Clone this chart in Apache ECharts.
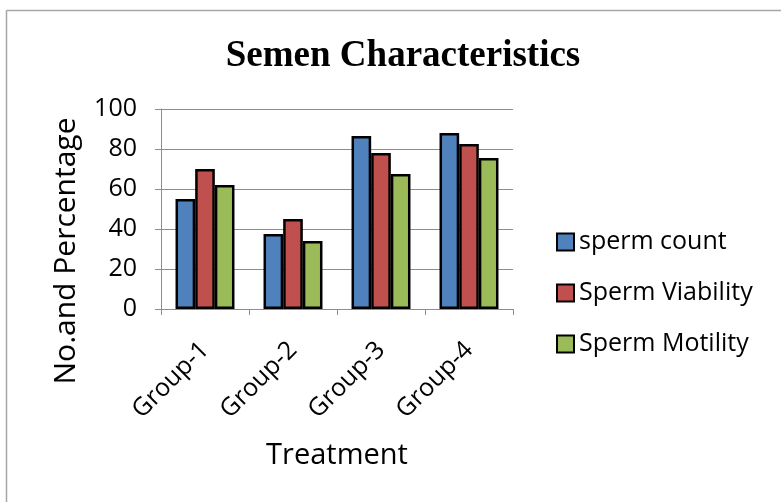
<!DOCTYPE html>
<html>
<head>
<meta charset="utf-8">
<script src="https://cdn.jsdelivr.net/npm/echarts@6/dist/echarts.min.js"></script>
<style>
  html, body { margin: 0; padding: 0; background: #fff; }
  #chart { width: 781px; height: 502px; }
</style>
</head>
<body>
<div id="chart"></div>
<script>
// Semen characteristics per treatment group
const categories = ['Group-1', 'Group-2', 'Group-3', 'Group-4'];
const spermCount = [55, 37.5, 86.5, 88];
const spermViability = [70, 45, 78, 82.5];
const spermMotility = [62, 34, 67.5, 75.5];
const yTicks = [0, 20, 40, 60, 80, 100];

const labelFont = '"Open Sans", "Noto Sans", sans-serif';
const gridColor = '#8c8c8c';

const chart = echarts.init(document.getElementById('chart'), null, { renderer: 'canvas' });

function barSeries(name, data, color) {
  return {
    name: name,
    type: 'bar',
    data: data,
    barGap: '0%',
    barCategoryGap: '33%',
    itemStyle: { color: color, borderColor: '#000', borderWidth: 2.5 },
    emphasis: { disabled: true }
  };
}

chart.setOption({
  animation: false,
  backgroundColor: '#fff',
  title: {
    text: 'Semen Characteristics',
    left: 398,
    top: 33,
    textAlign: 'center',
    textStyle: {
      fontFamily: '"Liberation Serif", "Times New Roman", serif',
      fontWeight: 'bold',
      fontSize: 37,
      color: '#000'
    }
  },
  legend: {
    orient: 'vertical',
    left: 551,
    top: 224,
    itemWidth: 17,
    itemHeight: 17,
    itemGap: 25,
    itemTextGap: 7,
    icon: 'rect',
    textStyle: { fontFamily: labelFont, fontSize: 25, color: '#000', lineHeight: 26 },
    data: ['sperm count', 'Sperm Viability', 'Sperm Motility']
  },
  grid: { left: 161, right: 268, top: 109, bottom: 193, containLabel: false },
  xAxis: {
    type: 'category',
    data: categories,
    name: 'Treatment',
    nameLocation: 'middle',
    nameGap: 132,
    nameTextStyle: { fontFamily: labelFont, fontSize: 29, color: '#000' },
    axisLine: { lineStyle: { color: gridColor, width: 1 } },
    axisTick: { show: true, length: 6, lineStyle: { color: gridColor } },
    axisLabel: { rotate: 45, margin: 37, fontFamily: labelFont, fontSize: 25, color: '#000' }
  },
  yAxis: {
    type: 'value',
    min: yTicks[0],
    max: yTicks[yTicks.length - 1],
    interval: 20,
    name: 'No.and Percentage',
    nameLocation: 'middle',
    nameGap: 80,
    nameTextStyle: { fontFamily: labelFont, fontSize: 30, color: '#000', padding: [0, 84, 0, 0] },
    axisLine: { show: true, lineStyle: { color: gridColor, width: 1 } },
    axisTick: { show: true, length: 6, lineStyle: { color: gridColor } },
    axisLabel: { margin: 24, fontFamily: labelFont, fontSize: 25, color: '#000' },
    splitLine: { show: true, lineStyle: { color: gridColor, width: 1 } }
  },
  series: [
    barSeries('sperm count', spermCount, '#4F81BD'),
    barSeries('Sperm Viability', spermViability, '#C0504D'),
    barSeries('Sperm Motility', spermMotility, '#9BBB59')
  ],
  graphic: [
    { type: 'line', shape: { x1: 6.5, y1: 10.5, x2: 781, y2: 10.5 }, style: { stroke: '#a6a6a6', lineWidth: 1.5 } },
    { type: 'line', shape: { x1: 6.5, y1: 10.5, x2: 6.5, y2: 502 }, style: { stroke: '#a6a6a6', lineWidth: 1.5 } }
  ]
});
</script>
</body>
</html>
